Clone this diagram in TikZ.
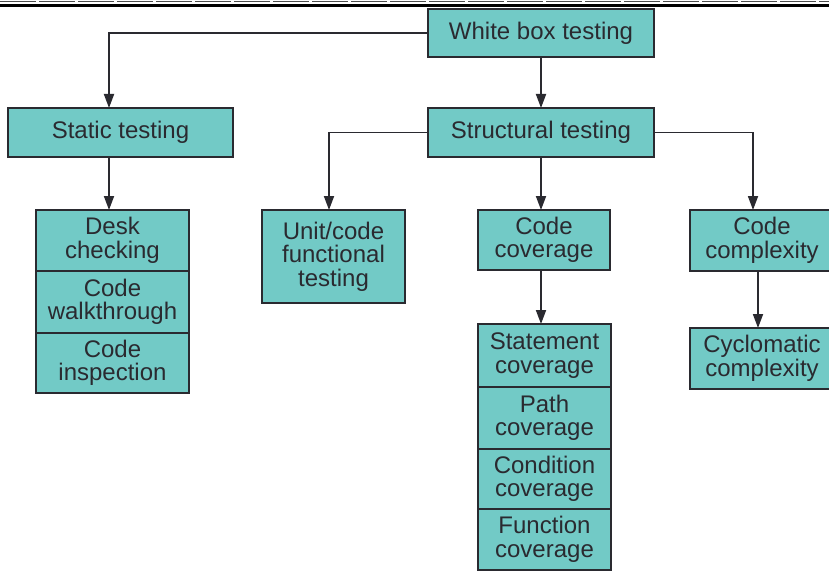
\documentclass[tikz,border=0pt]{standalone}
\usepackage{fontspec}
\setmainfont{Liberation Sans}
\usepackage{xcolor}
\usetikzlibrary{arrows.meta}
\definecolor{boxfill}{RGB}{114,202,198}
\definecolor{boxline}{RGB}{42,42,48}

\begin{document}
\begin{tikzpicture}[x=1pt,y=-1pt,
  box/.style={draw=boxline,fill=boxfill,line width=1.6pt,inner sep=0pt,outer sep=0pt,align=center,
    text=boxline,font=\fontsize{24}{23.5}\selectfont},
  arr/.style={draw=boxline,line width=1.8pt,-{Triangle[length=14pt,width=10pt]}}]
\useasboundingbox (0,0) rectangle (829,572);
\draw [line width=1.2pt,dash pattern=on 36pt off 3pt,black!70] (0,1.5) -- (829,1.5);
\draw [line width=2.4pt] (0,5.5) -- (829,5.5);

\node [box,minimum width=226,minimum height=48] (wbt) at (541,33) {White box testing};
\node [box,minimum width=225,minimum height=49] (static) at (120.5,132.5) {Static testing};
\node [box,minimum width=226,minimum height=49] (struct) at (541,132.5) {Structural testing};

\node [box,minimum width=153,minimum height=61] (desk) at (112.5,240.5) {Desk\\checking};
\node [box,minimum width=153,minimum height=62,anchor=north] (walk) at (desk.south) {Code\\walkthrough};
\node [box,minimum width=153,minimum height=60,anchor=north] (insp) at (walk.south) {Code\\inspection};

\node [box,minimum width=143,minimum height=93] (unit) at (333.5,256.5) {Unit/code\\functional\\testing};
\node [box,minimum width=132,minimum height=60] (cov) at (544,240) {Code\\coverage};
\node [box,minimum width=144,minimum height=61] (cplx) at (762,240.5) {Code\\complexity};
\node [box,minimum width=144,minimum height=61] (cyc) at (762,358.5) {Cyclomatic\\complexity};

\node [box,minimum width=133,minimum height=63] (stmt) at (544.5,355.5) {Statement\\coverage};
\node [box,minimum width=133,minimum height=62,anchor=north] (path) at (stmt.south) {Path\\coverage};
\node [box,minimum width=133,minimum height=60,anchor=north] (cond) at (path.south) {Condition\\coverage};
\node [box,minimum width=133,minimum height=61,anchor=north] (func) at (cond.south) {Function\\coverage};

\draw [arr] (wbt.west) -| ([xshift=-11.5pt]static.north);
\draw [arr] (wbt.south) -- (struct.north);
\draw [arr] ([xshift=-11.5pt]static.south) -- ([xshift=-11.5pt]static.south |- desk.north);
\draw [arr] (struct.west) -| ([xshift=-4.5pt]unit.north);
\draw [arr] (struct.south) -- (struct.south |- cov.north);
\draw [arr] (struct.east) -| ([xshift=-9pt]cplx.north);
\draw [arr] ([xshift=-3pt]cov.south) -- ([xshift=-3pt]cov.south |- stmt.north);
\draw [arr] ([xshift=-4pt]cplx.south) -- ([xshift=-4pt]cyc.north);
\end{tikzpicture}
\end{document}
